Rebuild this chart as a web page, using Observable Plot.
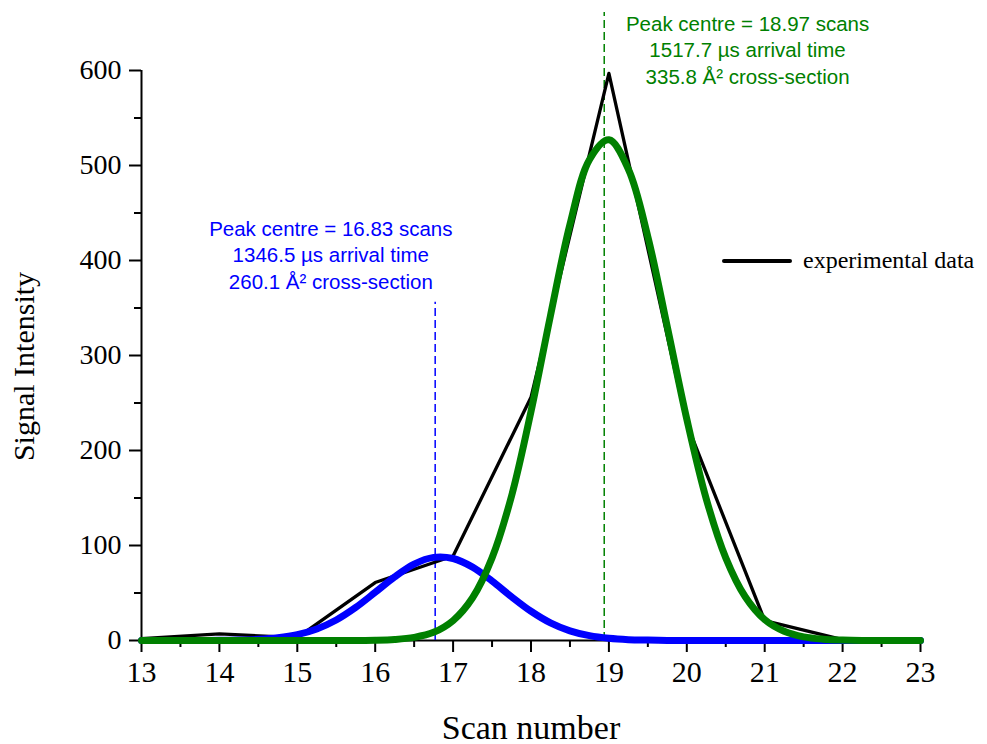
<!DOCTYPE html>
<html>
<head>
<meta charset="utf-8">
<script src="https://cdn.jsdelivr.net/npm/d3@7"></script>
<script src="https://cdn.jsdelivr.net/npm/@observablehq/plot@0.6"></script>
<style>
  html, body { margin: 0; padding: 0; background: #fff; }
  #wrap { position: relative; width: 987px; height: 744px; }
  #legend { position: absolute; left: 722px; top: 247px; display: flex; align-items: center;
            font-family: "Liberation Serif", "Times New Roman", serif; font-size: 24px; color: #000; white-space: nowrap; }
  #legend .swatch { display: inline-block; width: 70px; height: 0; border-top: 4px solid #000; border-radius: 2px; margin-right: 11px; }
</style>
</head>
<body>
<div id="wrap"><div id="legend"><span class="swatch"></span><span>experimental data</span></div></div>
<script>
// ---- data ----
const scans = [13, 14, 15, 16, 17, 18, 19, 20, 21, 22, 23];
const intensity = [2, 7, 3, 61, 89, 256, 597, 228, 21, 1, 0];

const fitScans = [13, 13.25, 13.5, 13.75, 14, 14.25, 14.5, 14.75, 15, 15.25, 15.5, 15.75,
  16, 16.25, 16.5, 16.75, 17, 17.25, 17.5, 17.75, 18, 18.25, 18.5, 18.75,
  19, 19.25, 19.5, 19.75, 20, 20.25, 20.5, 20.75, 21, 21.25, 21.5, 21.75,
  22, 22.25, 22.5, 22.75, 23];
const fitPeak1 = [0, 0, 0, 0, 0.2, 0.5, 1.2, 2.9, 6.2, 12.2, 21.6, 34.8,
  50.7, 67, 80.4, 87.5, 86.3, 77.2, 62.6, 46.1, 30.8, 18.6, 10.2, 5.1,
  2.3, 0.9, 0.4, 0.1, 0, 0, 0, 0, 0, 0, 0, 0,
  0, 0, 0, 0, 0];
const fitPeak2 = [0, 0, 0, 0, 0, 0, 0, 0, 0, 0, 0, 0.1,
  0.3, 1.1, 3.3, 8.6, 21, 45, 87, 152, 241, 342, 438, 506,
  527, 496, 425, 330, 233, 149, 87, 46, 22, 9.7, 3.8, 1.4,
  0.5, 0.1, 0, 0, 0];

const peakCentres = [16.77, 18.94];
const peakRuleTops = [356, 661];
const peakLabels = [
  "Peak centre = 16.83 scans\n1346.5 \u00b5s arrival time\n260.1 \u00c5\u00b2 cross-section",
  "Peak centre = 18.97 scans\n1517.7 \u00b5s arrival time\n335.8 \u00c5\u00b2 cross-section"
];
const peakColors = ["#0000ff", "#008000"];

const xMajor = [13, 14, 15, 16, 17, 18, 19, 20, 21, 22, 23];
const xMinor = [13.5, 14.5, 15.5, 16.5, 17.5, 18.5, 19.5, 20.5, 21.5, 22.5];
const yMajor = [0, 100, 200, 300, 400, 500, 600];
const yMinor = [50, 150, 250, 350, 450, 550];

// ---- tables ----
const exp = scans.map((s, i) => ({scan: s, v: intensity[i]}));
const fit1 = fitScans.map((s, i) => ({scan: s, v: fitPeak1[i]}));
const fit2 = fitScans.map((s, i) => ({scan: s, v: fitPeak2[i]}));
const rules = peakCentres.map((c, i) => ({x: c, top: peakRuleTops[i], color: peakColors[i]}));
const notes = [
  {x: 15.43, y: 370.5, text: peakLabels[0], color: peakColors[0]},
  {x: 20.78, y: 586, text: peakLabels[1], color: peakColors[1]}
];

const serif = "Liberation Serif, Times New Roman, serif";
const sans = "Liberation Sans, Arial, sans-serif";

const chart = Plot.plot({
  width: 987,
  height: 744,
  marginLeft: 141,
  marginRight: 67,
  marginTop: 70,
  marginBottom: 104,
  style: {fontFamily: serif, color: "#000", background: "#fff"},
  x: {domain: [13, 23]},
  y: {domain: [0, 600]},
  marks: [
    Plot.axisX({ticks: xMajor, tickSize: 12, tickPadding: 8, strokeWidth: 2, fontSize: 30, fontFamily: serif, label: null, tickFormat: d => String(d)}),
    Plot.axisX({ticks: xMinor, tickSize: 7, strokeWidth: 2, text: null, label: null}),
    Plot.axisY({ticks: yMajor, tickSize: 12, tickPadding: 8, strokeWidth: 2, fontSize: 28, fontFamily: serif, label: null, tickFormat: d => String(d)}),
    Plot.axisY({ticks: yMinor, tickSize: 7, strokeWidth: 2, text: null, label: null}),
    Plot.ruleY([0], {stroke: "#000", strokeWidth: 2}),
    Plot.ruleX([13], {y1: 0, y2: 600, stroke: "#000", strokeWidth: 2}),
    Plot.ruleX(rules, {x: "x", y1: 0, y2: "top", stroke: "color", strokeWidth: 1.5, strokeDasharray: "8,4"}),
    Plot.line(exp, {x: "scan", y: "v", stroke: "#000", strokeWidth: 3.3, strokeLinejoin: "round"}),
    Plot.line(fit1, {x: "scan", y: "v", stroke: "#0000ff", strokeWidth: 7, curve: "catmull-rom", strokeLinejoin: "round"}),
    Plot.line(fit2, {x: "scan", y: "v", stroke: "#008000", strokeWidth: 7, curve: "catmull-rom", strokeLinejoin: "round"}),
    Plot.text(notes, {x: "x", y: "y", text: "text", fill: "color", fontFamily: sans, fontSize: 20.5, lineHeight: 1.29, lineAnchor: "bottom", textAnchor: "middle"}),
    Plot.text(["Scan number"], {frameAnchor: "bottom", dy: 98, fontSize: 34, fontFamily: serif, lineAnchor: "bottom", textAnchor: "middle", fill: "#000"}),
    Plot.text(["Signal Intensity"], {frameAnchor: "left", dx: -108, dy: 11, rotate: -90, fontSize: 30, fontFamily: serif, lineAnchor: "bottom", textAnchor: "middle", fill: "#000"})
  ]
});
document.getElementById("wrap").prepend(chart);
</script>
</body>
</html>
